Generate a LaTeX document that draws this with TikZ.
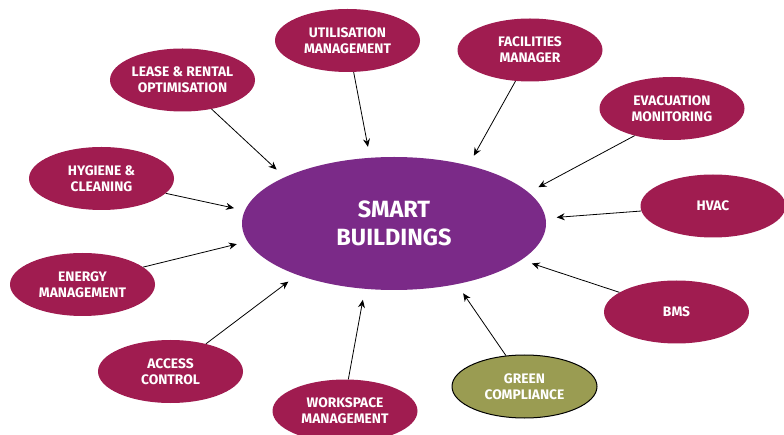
\documentclass[tikz,border=0pt]{standalone}
\usepackage{fontspec}
\setmainfont{Fira Sans}
\usetikzlibrary{shapes.geometric,arrows.meta}

\definecolor{hubpurple}{HTML}{7B2A88}
\definecolor{leafred}{HTML}{A01C50}
\definecolor{leafolive}{HTML}{9A9C52}

\tikzset{
        hub/.style={ellipse, fill=hubpurple, text=white, inner sep=0pt,
                minimum width=304pt, minimum height=133pt, align=center,
                font=\fontsize{23.5}{28}\selectfont\bfseries},
        leaf/.style={ellipse, fill=leafred, text=white, inner sep=0pt,
                minimum width=145pt, minimum height=63pt, align=center,
                font=\fontsize{13.8}{16}\selectfont\bfseries},
        greenleaf/.style={leaf, fill=leafolive, draw=black, line width=1pt},
        feed/.style={-{Stealth[length=8pt,width=7pt]}, line width=0.8pt, shorten >=11pt}
}

\begin{document}
\begin{tikzpicture}[x=1pt,y=-1pt]
        \useasboundingbox (0,0) rectangle (784,435);

        \node [hub] (hub) at (394,223.5) {SMART\\BUILDINGS};

        \node [leaf] (util) at (347.5,40.5) {UTILISATION\\MANAGEMENT};
        \node [leaf] (fac) at (530,50) {FACILITIES\\MANAGER};
        \node [leaf] (lease) at (182.5,80) {LEASE \& RENTAL\\OPTIMISATION};
        \node [leaf] (evac) at (672,108.5) {EVACUATION\\MONITORING};
        \node [leaf] (hyg) at (101.5,178.5) {HYGIENE \&\\CLEANING};
        \node [leaf] (hvac) at (713,206) {HVAC};
        \node [leaf] (energy) at (82.5,284.5) {ENERGY\\MANAGEMENT};
        \node [leaf] (bms) at (676.5,312) {BMS};
        \node [leaf] (access) at (170.5,371.5) {ACCESS\\CONTROL};
        \node [leaf] (work) at (345,411) {WORKSPACE\\MANAGEMENT};
        \node [greenleaf] (green) at (524.5,386.5) {GREEN\\COMPLIANCE};

        \draw [feed] (util.-79) -- (hub.110);
        \draw [feed] (fac.-115) -- (hub.38);
        \draw [feed] (lease.-45.5) -- (hub.157.5);
        \draw [feed] (evac.-144) -- (hub.13.5);
        \draw [feed] (hyg.-13.3) -- (hub.175);
        \draw [feed] (hvac.184.8) -- (hub.2.3);
        \draw [feed] (energy.16.5) -- (hub.187);
        \draw [feed] (bms.161) -- (hub.-16);
        \draw [feed] (access.38) -- (hub.208);
        \draw [feed] (work.84) -- (hub.246.6);
        \draw [feed] (green.121.8) -- (hub.-44);
\end{tikzpicture}
\end{document}
